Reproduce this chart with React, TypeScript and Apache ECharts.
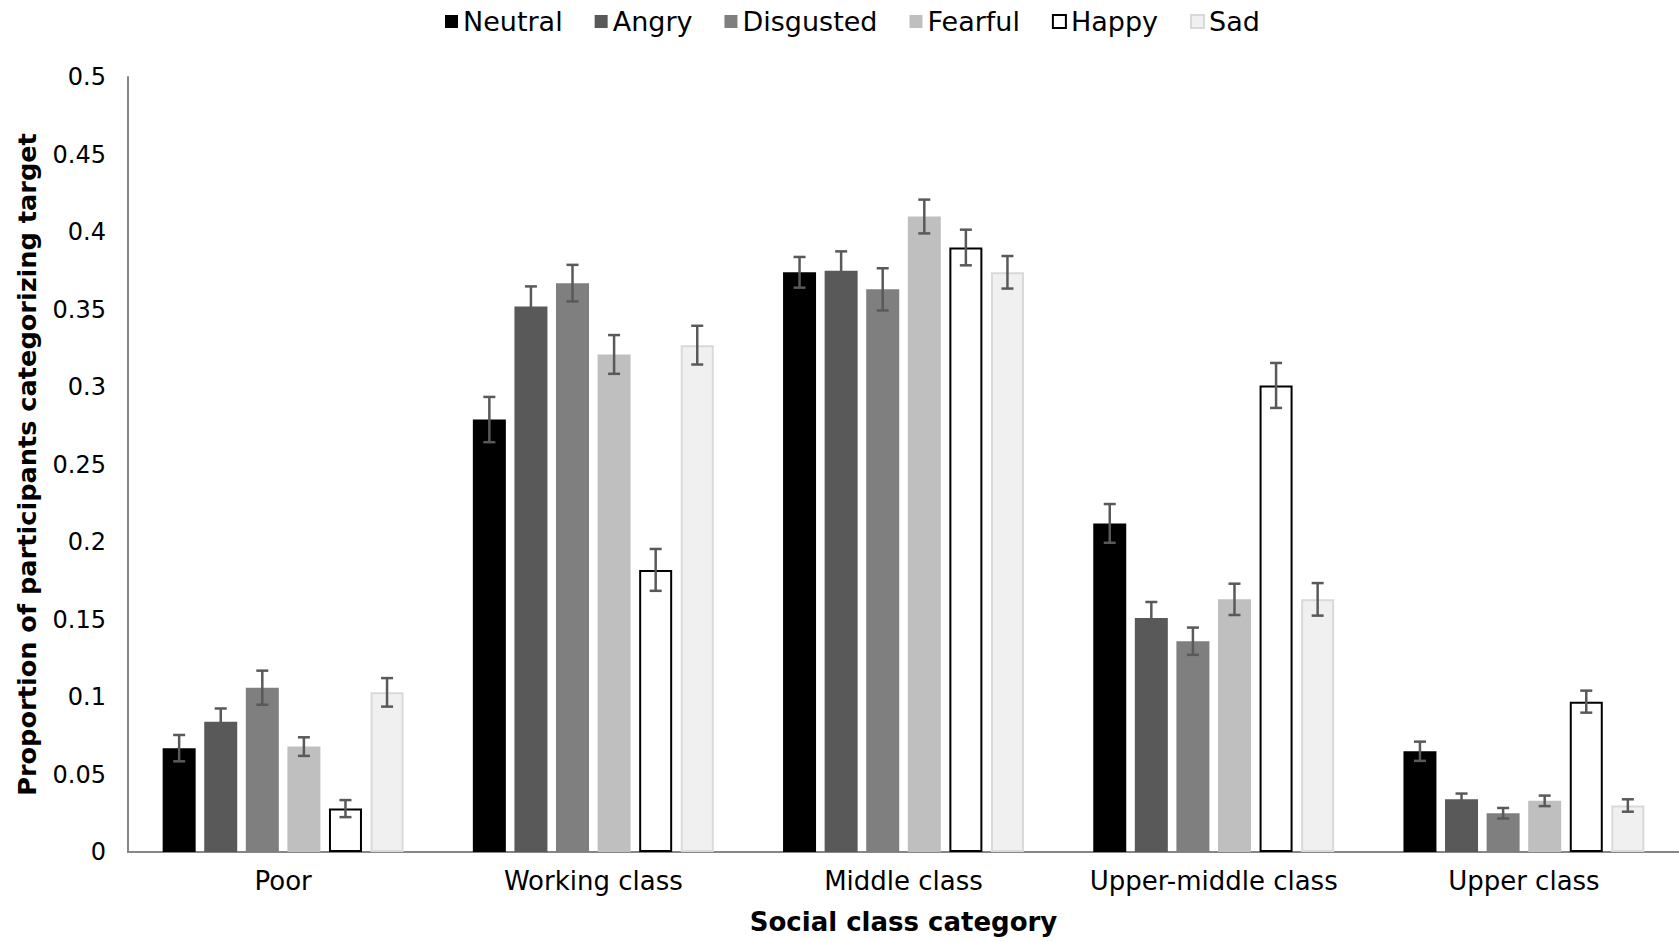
import React, { useEffect, useRef } from "react";
import * as echarts from "echarts";

const categories = ["Poor", "Working class", "Middle class", "Upper-middle class", "Upper class"];
const emotions = ["Neutral", "Angry", "Disgusted", "Fearful", "Happy", "Sad"];

const neutral = [0.067, 0.279, 0.374, 0.212, 0.065];
const angry = [0.084, 0.352, 0.375, 0.151, 0.034];
const disgusted = [0.106, 0.367, 0.363, 0.136, 0.025];
const fearful = [0.068, 0.321, 0.410, 0.163, 0.033];
const happy = [0.028, 0.182, 0.390, 0.301, 0.097];
const sad = [0.103, 0.327, 0.374, 0.163, 0.030];

const neutralErr = [0.0085, 0.0146, 0.0099, 0.0125, 0.0062];
const angryErr = [0.0086, 0.0129, 0.0125, 0.0103, 0.0037];
const disgustedErr = [0.011, 0.0118, 0.0136, 0.0088, 0.0034];
const fearfulErr = [0.006, 0.0125, 0.0109, 0.0101, 0.0034];
const happyErr = [0.0055, 0.0135, 0.0115, 0.0145, 0.0071];
const sadErr = [0.0092, 0.0125, 0.0105, 0.0105, 0.004];

const values = [neutral, angry, disgusted, fearful, happy, sad];
const errors = [neutralErr, angryErr, disgustedErr, fearfulErr, happyErr, sadErr];

const fills = ["#000000", "#595959", "#7f7f7f", "#bfbfbf", "#ffffff", "#f0f0f0"];
const borders = ["#000000", "#595959", "#7f7f7f", "#bfbfbf", "#000000", "#d9d9d9"];
const borderWidths = [0, 0, 0, 0, 2, 2];

const BAR_WIDTH = 33;
const BAR_GAP_RATIO = 0.26;
const FONT = "DejaVu Sans";

export default function App() {
  const ref = useRef<HTMLDivElement>(null);

  useEffect(() => {
    document.body.style.margin = "0";
    if (!ref.current) return;
    const chart = echarts.init(ref.current, null, { renderer: "svg" });

    const n = emotions.length;
    const gap = BAR_WIDTH * BAR_GAP_RATIO;
    const total = n * BAR_WIDTH + (n - 1) * gap;

    const barSeries = emotions.map((name, i) => ({
      name,
      type: "bar",
      data: values[i],
      barWidth: BAR_WIDTH,
      barGap: `${BAR_GAP_RATIO * 100}%`,
      itemStyle: {
        color: fills[i],
        borderColor: borders[i],
        borderWidth: borderWidths[i],
      },
      z: 2,
    }));

    const errSeries = emotions.map((name, i) => {
      const offset = -total / 2 + BAR_WIDTH / 2 + i * (BAR_WIDTH + gap);
      return {
        name: name + " error",
        type: "custom",
        z: 5,
        data: values[i].map((v, c) => [c, v, errors[i][c]]),
        renderItem: (params: any, api: any) => {
          const c = api.value(0);
          const v = api.value(1);
          const e = api.value(2);
          const x = api.coord([c, v])[0] + offset;
          const yTop = api.coord([c, v + e])[1];
          const yBot = api.coord([c, v - e])[1];
          const cap = 6;
          const style = { stroke: "#595959", lineWidth: 2.5 };
          return {
            type: "group",
            children: [
              { type: "line", shape: { x1: x, y1: yTop, x2: x, y2: yBot }, style },
              { type: "line", shape: { x1: x - cap, y1: yTop, x2: x + cap, y2: yTop }, style },
              { type: "line", shape: { x1: x - cap, y1: yBot, x2: x + cap, y2: yBot }, style },
            ],
          };
        },
      };
    });

    chart.setOption({
      animation: false,
      textStyle: { fontFamily: FONT },
      legend: {
        data: emotions,
        left: 440,
        top: 3,
        itemWidth: 13,
        itemHeight: 13,
        itemGap: 32,
        icon: "rect",
        textStyle: { fontFamily: FONT, fontSize: 27, color: "#000" },
      },
      grid: {
        left: 128,
        right: 0,
        top: 77,
        bottom: 89,
        containLabel: false,
        outerBoundsMode: "none",
      },
      xAxis: {
        type: "category",
        data: categories,
        name: "Social class category",
        nameLocation: "middle",
        nameGap: 57,
        nameTextStyle: { fontFamily: FONT, fontSize: 26, fontWeight: "bold", color: "#000" },
        axisLine: { lineStyle: { color: "#868686", width: 2 } },
        axisTick: { show: false },
        axisLabel: { fontFamily: FONT, fontSize: 26, color: "#000", margin: 16, interval: 0, hideOverlap: false },
      },
      yAxis: {
        type: "value",
        min: 0,
        max: 0.5,
        interval: 0.05,
        name: "Proportion of participants categorizing target",
        nameLocation: "middle",
        nameGap: 88,
        nameTextStyle: { fontFamily: FONT, fontSize: 25.6, fontWeight: "bold", color: "#000" },
        axisLine: { show: true, lineStyle: { color: "#868686", width: 2 } },
        axisTick: { show: false },
        splitLine: { show: false },
        axisLabel: { fontFamily: FONT, fontSize: 24, color: "#000", margin: 22 },
      },
      series: [...barSeries, ...errSeries],
    });

    return () => chart.dispose();
  }, []);

  return <div ref={ref} style={{ width: 1679, height: 941 }} />;
}
